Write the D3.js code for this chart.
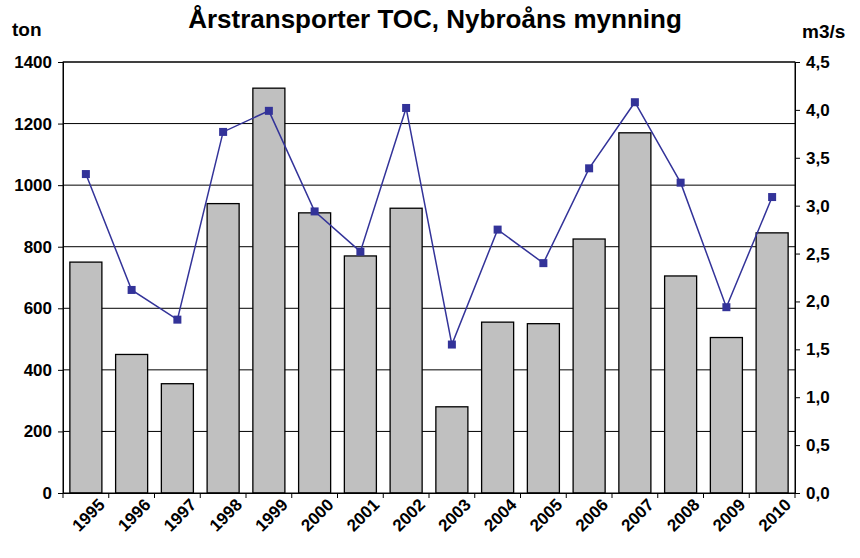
<!DOCTYPE html>
<html><head><meta charset="utf-8">
<script src="https://cdn.jsdelivr.net/npm/d3@7"></script>
<style>body{margin:0;background:#fff}text{font-family:"Liberation Sans",Arial,sans-serif;font-weight:bold}</style>
</head><body><svg id="c" width="860" height="558"></svg>
<script>
const years=["1995","1996","1997","1998","1999","2000","2001","2002","2003","2004","2005","2006","2007","2008","2009","2010"];
const tons=[750,450,355,940,1315,910,770,925,280,555,550,825,1170,705,505,845];
const flow=[3.33,2.12,1.81,3.77,3.99,2.94,2.52,4.02,1.55,2.75,2.40,3.39,4.08,3.24,1.94,3.09];
const leftTicks=[0,200,400,600,800,1000,1200,1400];
const rightTicks=[0,0.5,1,1.5,2,2.5,3,3.5,4,4.5];
const svg=d3.select("#c");
const L=63,R=795,T=62,B=493;
const x=d3.scaleBand().domain(years).range([L,R]).paddingInner(0.3).paddingOuter(0.15);
const y=d3.scaleLinear().domain([0,1400]).range([B,T]);
const y2=d3.scaleLinear().domain([0,4.5]).range([B,T]);
svg.append("g").selectAll("line").data(leftTicks.slice(1)).join("line")
 .attr("x1",L).attr("x2",R).attr("y1",d=>y(d)).attr("y2",d=>y(d)).attr("stroke","#000");
svg.append("g").selectAll("rect").data(years).join("rect")
 .attr("x",d=>x(d)).attr("width",x.bandwidth()).attr("y",(d,i)=>y(tons[i])).attr("height",(d,i)=>B-y(tons[i]))
 .attr("fill","#c0c0c0").attr("stroke","#000").attr("stroke-width",1.3);
svg.append("rect").attr("x",L).attr("y",T).attr("width",R-L).attr("height",B-T).attr("fill","none").attr("stroke","#000");
const ax=svg.append("g").attr("transform",`translate(${L},0)`).call(d3.axisLeft(y).tickValues(leftTicks).tickSize(5).tickPadding(6).tickFormat(d3.format("d")));
const ax2=svg.append("g").attr("transform",`translate(${R},0)`).call(d3.axisRight(y2).tickValues(rightTicks).tickSize(5).tickPadding(6).tickFormat(d=>d3.format(".1f")(d).replace(".",",")));
const xb=svg.append("g").attr("transform",`translate(0,${B})`).call(d3.axisBottom(x).tickSize(5).tickSizeOuter(0));
xb.selectAll(".tick line").attr("transform",`translate(${-x.step()/2},0)`);
xb.append("line").attr("x1",R).attr("x2",R).attr("y1",0).attr("y2",5).attr("stroke","#000");
xb.selectAll("text").attr("transform","rotate(-45)").attr("text-anchor","end").attr("dx","0.3em").attr("dy","0.9em");
[ax,ax2,xb].forEach(g=>{g.selectAll("text").attr("font-size",17).attr("fill","#000");g.select(".domain").attr("stroke","#000");});
const line=d3.line().x((d,i)=>x(years[i])+x.bandwidth()/2).y(d=>y2(d));
svg.append("path").datum(flow).attr("d",line).attr("fill","none").attr("stroke","#333399").attr("stroke-width",1.5);
svg.append("g").selectAll("rect").data(flow).join("rect")
 .attr("x",(d,i)=>x(years[i])+x.bandwidth()/2-4).attr("y",d=>y2(d)-4).attr("width",8).attr("height",8).attr("fill","#333399");
svg.append("text").attr("x",435).attr("y",28).attr("text-anchor","middle").attr("font-size",26).text("Årstransporter TOC, Nybroåns mynning");
svg.append("text").attr("x",12).attr("y",36).attr("font-size",19).text("ton");
svg.append("text").attr("x",802).attr("y",38).attr("font-size",19).text("m3/s");
</script></body></html>
